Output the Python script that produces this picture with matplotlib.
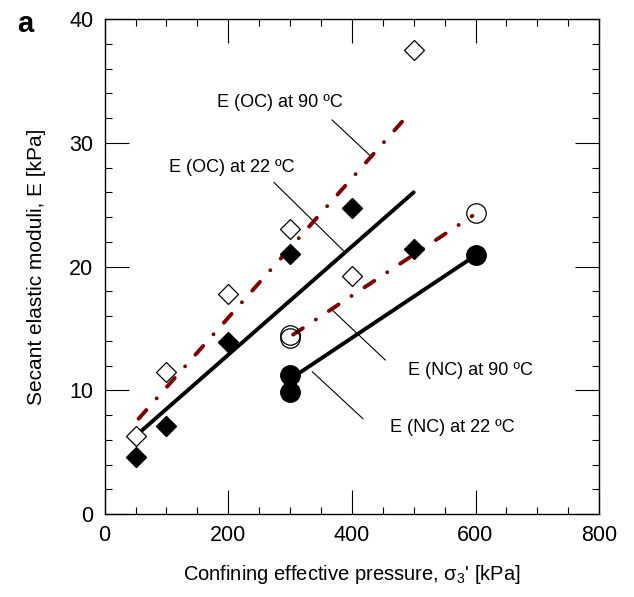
import matplotlib
matplotlib.use("Agg")
import matplotlib.pyplot as plt
from matplotlib.ticker import MultipleLocator

plt.rcParams['font.family'] = ['Liberation Sans', 'DejaVu Sans']
plt.rcParams['mathtext.fontset'] = 'custom'
plt.rcParams['mathtext.rm'] = 'Liberation Sans'

# E (OC) at 22 C - filled diamonds
oc22_x = [50, 100, 200, 300, 400, 500]
oc22_y = [4.6, 7.1, 13.9, 21.0, 24.7, 21.4]
# E (OC) at 90 C - open diamonds
oc90_x = [50, 100, 200, 300, 400, 500]
oc90_y = [6.3, 11.5, 17.8, 23.0, 19.2, 37.5]
# E (NC) at 22 C - filled circles
nc22_x = [300, 300, 600]
nc22_y = [11.2, 9.9, 20.9]
# E (NC) at 90 C - open circles
nc90_x = [300, 300, 600]
nc90_y = [14.2, 14.5, 24.3]

# fitted lines
fit_oc22_x = [50, 500]
fit_oc22_y = [6.3, 26.0]
fit_oc90_x = [55, 490]
fit_oc90_y = [7.7, 32.2]
fit_nc22_x = [300, 600]
fit_nc22_y = [10.9, 20.9]
fit_nc90_x = [305, 595]
fit_nc90_y = [14.5, 24.1]

# label text, text position, leader line (x0, x1, y0, y1)
labels = ['E (OC) at 90 ºC', 'E (OC) at 22 ºC', 'E (NC) at 90 ºC', 'E (NC) at 22 ºC']
label_pos = [(284, 33.3), (206, 28.0), (592, 11.6), (563, 7.0)]
leaders = [([368, 433], [31.85, 28.8]),
           ([274, 386], [26.8, 21.3]),
           ([368, 454], [16.5, 12.45]),
           ([336, 418], [11.5, 7.7])]

red = '#800000'
dashdot = (0, (3, 4, 0.01, 4))

fig = plt.figure(figsize=(6.34, 5.97), dpi=100)
ax = fig.add_axes([0.165, 0.139, 0.780, 0.829])

ax.plot(fit_oc22_x, fit_oc22_y, color='black', lw=2.8, solid_capstyle='round', zorder=2)
ax.plot(fit_nc22_x, fit_nc22_y, color='black', lw=2.8, solid_capstyle='round', zorder=2)
ax.plot(fit_oc90_x, fit_oc90_y, color=red, lw=2.8, ls=dashdot, dash_capstyle='round', zorder=2)
ax.plot(fit_nc90_x, fit_nc90_y, color=red, lw=2.8, ls=dashdot, dash_capstyle='round', zorder=2)

ax.plot(oc22_x, oc22_y, 'D', ms=10, color='black', zorder=3)
ax.plot(oc90_x, oc90_y, 'D', ms=10, mfc='white', mec='black', mew=0.9, zorder=3)
ax.plot(nc22_x, nc22_y, 'o', ms=14, color='black', zorder=3)
ax.plot(nc90_x, nc90_y, 'o', ms=14, mfc='none', mec='black', mew=0.9, zorder=3)

for txt, (tx, ty), (lx, ly) in zip(labels, label_pos, leaders):
    ax.text(tx, ty, txt, fontsize=13, ha='center', va='center')
    ax.plot(lx, ly, color='black', lw=0.8, zorder=1)

ax.set_xlim(0, 800)
ax.set_ylim(0, 40)
ax.xaxis.set_major_locator(MultipleLocator(200))
ax.xaxis.set_minor_locator(MultipleLocator(50))
ax.yaxis.set_major_locator(MultipleLocator(10))
ax.yaxis.set_minor_locator(MultipleLocator(2))
ax.tick_params(which='both', direction='in', top=True, right=True, width=0.8)
ax.tick_params(which='major', length=17, labelsize=15.5, pad=8)
ax.tick_params(which='minor', length=5)
for s in ax.spines.values():
    s.set_linewidth(1.0)

ax.set_xlabel("Confining effective pressure, $\\mathregular{σ_3}$' [kPa]", fontsize=14.5, labelpad=12)
ax.set_ylabel('Secant elastic moduli, E [kPa]', fontsize=15)
ax.yaxis.set_label_coords(-0.118, 0.5)

fig.text(0.027, 0.96, 'a', fontsize=21, fontweight='bold', ha='left', va='center')

fig.savefig('out.png', dpi=100)
